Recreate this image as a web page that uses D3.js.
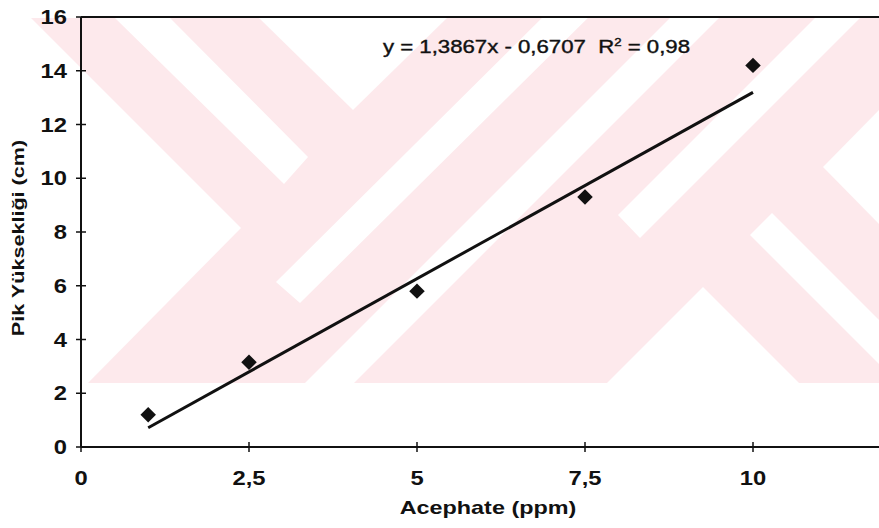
<!DOCTYPE html>
<html lang="tr">
<head>
<meta charset="UTF-8">
<title>Acephate kalibrasyon</title>
<style>
body { margin: 0; background: #fff; }
svg { display: block; font-family: "Liberation Sans", Arial, sans-serif; }
</style>
</head>
<body>
<svg id="chart" width="879" height="528"></svg>
<script src="https://d3js.org/d3.v7.min.js"></script>
<script>
// veriler
const concentrations = [1, 2.5, 5, 7.5, 10];
const peakHeights = [1.2, 3.15, 5.8, 9.3, 14.2];
const xTicks = [0, 2.5, 5, 7.5, 10];
const yTicks = [0, 2, 4, 6, 8, 10, 12, 14, 16];
const slope = 1.3867, intercept = -0.6707, r2 = 0.98;

const svg = d3.select("#chart");
const W = 879, H = 528;
const plotLeft = 81, plotTop = 17, plotBottom = 447;

const x = d3.scaleLinear().domain([0, 12]).range([plotLeft, plotLeft + 12 * 67.2]);
const y = d3.scaleLinear().domain([0, 16]).range([plotBottom, plotTop]);
const fmt = d => String(d).replace(".", ",");

// arka plan filigran (pembe)
const wm = svg.append("g");
wm.append("clipPath").attr("id", "wmclip")
  .append("rect").attr("x", 0).attr("y", 18).attr("width", W).attr("height", 365);
const wg = wm.append("g").attr("clip-path", "url(#wmclip)");
wg.append("rect").attr("x", 0).attr("y", 18).attr("width", W).attr("height", 365).attr("fill", "#fde9ec");
const holes = [
  [[0, 18], [31, 18], [241, 228], [88, 383], [0, 383]],
  [[115, 18], [170, 18], [308, 157], [284, 184]],
  [[259, 18], [447, 18], [353, 110]],
  [[560, 0], [606, 0], [300, 303], [276, 282]],
  [[688, 0], [737, 0], [354, 383], [305, 383]],
  [[833, 0], [878, 0], [640, 238], [618, 215]],
  [[879, 110], [823, 167], [879, 224]],
  [[703, 287], [607, 383], [799, 383]],
  [[772, 213], [879, 320], [879, 364], [750, 235]]
];
wg.selectAll("path.hole").data(holes).join("path")
  .attr("class", "hole")
  .attr("d", d => "M" + d.join("L") + "Z")
  .attr("fill", "#fff");

// eksenler
const axisG = svg.append("g");
axisG.append("line").attr("x1", plotLeft).attr("x2", W).attr("y1", plotTop).attr("y2", plotTop)
  .attr("stroke", "#111").attr("stroke-width", 2);
axisG.append("line").attr("x1", plotLeft).attr("x2", plotLeft).attr("y1", plotTop).attr("y2", plotBottom)
  .attr("stroke", "#111").attr("stroke-width", 2);
axisG.append("line").attr("x1", plotLeft).attr("x2", W).attr("y1", plotBottom).attr("y2", plotBottom)
  .attr("stroke", "#111").attr("stroke-width", 2);

axisG.selectAll("line.yt").data(yTicks).join("line").attr("class", "yt")
  .attr("x1", plotLeft - 5).attr("x2", plotLeft + 5)
  .attr("y1", d => y(d)).attr("y2", d => y(d))
  .attr("stroke", "#111").attr("stroke-width", 1.5);
axisG.selectAll("line.xt").data(xTicks).join("line").attr("class", "xt")
  .attr("x1", d => x(d)).attr("x2", d => x(d))
  .attr("y1", plotBottom - 5).attr("y2", plotBottom + 5)
  .attr("stroke", "#111").attr("stroke-width", 1.5);

axisG.selectAll("text.yl").data(yTicks).join("text").attr("class", "yl")
  .attr("transform", d => `translate(${plotLeft - 14},${y(d) + 7}) scale(1.22,1)`)
  .attr("text-anchor", "end")
  .attr("font-size", 19.5).attr("font-weight", "bold").attr("fill", "#111")
  .text(d => d);
axisG.selectAll("text.xl").data(xTicks).join("text").attr("class", "xl")
  .attr("transform", d => `translate(${x(d)},${485}) scale(1.22,1)`)
  .attr("text-anchor", "middle")
  .attr("font-size", 19.5).attr("font-weight", "bold").attr("fill", "#111")
  .text(fmt);

// eksen başlıkları
svg.append("text")
  .attr("transform", `translate(488,514) scale(1.3,1)`)
  .attr("text-anchor", "middle")
  .attr("font-size", 18).attr("font-weight", "bold").attr("fill", "#111")
  .text("Acephate (ppm)");
svg.append("text")
  .attr("transform", `translate(24,238) rotate(-90) scale(1.27,1)`)
  .attr("text-anchor", "middle")
  .attr("font-size", 17).attr("font-weight", "bold").attr("fill", "#111")
  .text("Pik Yüksekliği (cm)");

// trend çizgisi
const fit = d3.line().x(d => x(d)).y(d => y(slope * d + intercept));
svg.append("path")
  .attr("d", fit([d3.min(concentrations), d3.max(concentrations)]))
  .attr("fill", "none").attr("stroke", "#111").attr("stroke-width", 3);

// noktalar
svg.selectAll("path.pt").data(concentrations).join("path").attr("class", "pt")
  .attr("d", d3.symbol().type(d3.symbolSquare).size(120))
  .attr("transform", (d, i) => `translate(${x(d)},${y(peakHeights[i])}) rotate(45)`)
  .attr("fill", "#111");

// denklem
const eq = svg.append("text")
  .attr("x", 383).attr("y", 53)
  .style("white-space", "pre")
  .attr("font-size", 18.5).attr("fill", "#111")
  .attr("stroke", "#111").attr("stroke-width", 0.4)
  .attr("textLength", 307).attr("lengthAdjust", "spacingAndGlyphs");
eq.append("tspan").text(`y = ${fmt(slope)}x - ${fmt(Math.abs(intercept))}  R`);
eq.append("tspan").attr("dy", -7).attr("font-size", 11).text("2");
eq.append("tspan").attr("dy", 7).text(` = ${fmt(r2)}`);
</script>
</body>
</html>
